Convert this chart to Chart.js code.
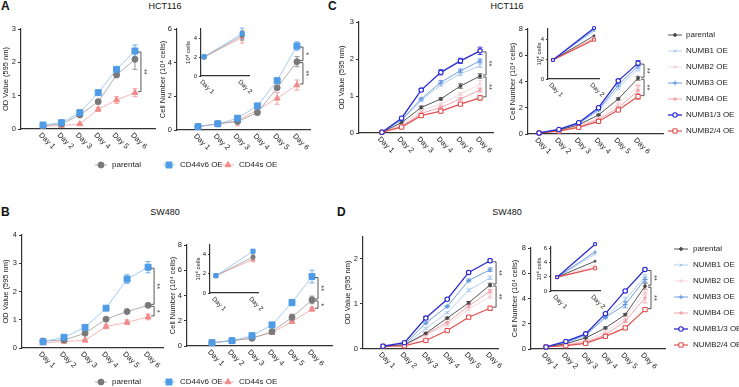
<!DOCTYPE html>
<html>
<head>
<meta charset="utf-8">
<script src="https://cdn.jsdelivr.net/npm/chart.js@4.4.0/dist/chart.umd.min.js"></script>
<style>
  html, body { margin: 0; padding: 0; background: #fff; }
  #fig { position: relative; width: 739px; height: 387px; overflow: hidden; font-family: Arial, "Liberation Sans", sans-serif; }
  #fig canvas { position: absolute; left: 0; top: 0; }
  .lbl { position: absolute; color: #111; white-space: nowrap; }
  .panel { font-weight: bold; font-size: 12px; }
  .cell { font-size: 9px; transform: translateX(-50%); }
</style>
</head>
<body>
<div id="fig">
  <div class="lbl panel" style="left:1px;top:-1px">A</div>
  <div class="lbl cell" style="left:165px;top:1px">HCT116</div>
  <div class="lbl panel" style="left:1px;top:205px">B</div>
  <div class="lbl cell" style="left:165px;top:207px">SW480</div>
  <div class="lbl panel" style="left:328px;top:-1px">C</div>
  <div class="lbl cell" style="left:507px;top:1px">HCT116</div>
  <div class="lbl panel" style="left:337px;top:205px">D</div>
  <div class="lbl cell" style="left:507px;top:207px">SW480</div>
</div>
<script>
const W = 739, H = 387;
const FONT = 'Arial, "Liberation Sans", sans-serif';

// categories
const days = ['Day 1', 'Day 2', 'Day 3', 'Day 4', 'Day 5', 'Day 6'];
const insetDays = ['Day 1', 'Day 2'];
const cd44Names = ['parental', 'CD44v6 OE', 'CD44s OE'];
const numbNames = ['parental', 'NUMB1 OE', 'NUMB2 OE', 'NUMB3 OE', 'NUMB4 OE', 'NUMB1/3 OE', 'NUMB2/4 OE'];

// A - HCT116, CD44 (parental, CD44v6, CD44s)
const hctOd = [
  [0.10, 0.15, 0.42, 0.82, 1.62, 2.09],
  [0.12, 0.19, 0.49, 1.09, 1.79, 2.34],
  [0.08, 0.10, 0.15, 0.59, 0.87, 1.09]
];
const hctOdErr = [
  [0.02, 0.02, 0.03, 0.06, 0.05, 0.30],
  [0.02, 0.02, 0.05, 0.05, 0.05, 0.18],
  [0.02, 0.02, 0.02, 0.06, 0.10, 0.12]
];
const hctCell = [
  [0.20, 0.37, 0.50, 1.03, 2.51, 4.06],
  [0.20, 0.37, 0.70, 1.43, 2.93, 4.99],
  [0.20, 0.37, 0.55, 1.19, 1.88, 2.67]
];
const hctCellErr = [
  [0.05, 0.05, 0.10, 0.10, 0.10, 0.30],
  [0.05, 0.05, 0.15, 0.15, 0.10, 0.25],
  [0.05, 0.05, 0.30, 0.10, 0.35, 0.30]
];
const hctInset = [[2.0, 4.3], [2.05, 4.5], [2.0, 4.1]];
const hctInsetErr = [[0.1, 0.5], [0.1, 0.6], [0.1, 0.6]];

// B - SW480, CD44
const swOd = [
  [0.25, 0.28, 0.52, 1.02, 1.29, 1.51],
  [0.22, 0.38, 0.73, 1.41, 2.44, 2.86],
  [0.18, 0.23, 0.27, 0.76, 0.91, 1.10]
];
const swOdErr = [
  [0.03, 0.03, 0.05, 0.05, 0.06, 0.06],
  [0.03, 0.05, 0.06, 0.06, 0.15, 0.20],
  [0.02, 0.03, 0.05, 0.08, 0.08, 0.10]
];
const swCell = [
  [0.26, 0.42, 0.61, 1.14, 2.27, 3.65],
  [0.26, 0.42, 0.82, 1.67, 3.44, 5.50],
  [0.26, 0.42, 0.65, 1.06, 1.93, 2.91]
];
const swCellErr = [
  [0.05, 0.05, 0.10, 0.10, 0.25, 0.30],
  [0.05, 0.05, 0.10, 0.15, 0.25, 0.50],
  [0.05, 0.05, 0.10, 0.10, 0.10, 0.15]
];
const swInset = [[1.8, 3.75], [1.8, 4.35], [1.8, 3.5]];
const swInsetErr = [[0.05, 0.2], [0.05, 0.1], [0.05, 0.25]];

// C - HCT116, NUMB (order as numbNames)
const hctNumbOd = [
  [0.02, 0.28, 0.69, 0.92, 1.27, 1.54],
  [0.02, 0.34, 0.88, 1.30, 1.60, 1.82],
  [0.02, 0.22, 0.60, 0.78, 1.05, 1.32],
  [0.02, 0.36, 0.92, 1.37, 1.68, 1.95],
  [0.02, 0.18, 0.53, 0.69, 0.92, 1.16],
  [0.02, 0.40, 1.16, 1.64, 1.95, 2.22],
  [0.02, 0.16, 0.47, 0.59, 0.78, 0.95]
];
const hctNumbOdErr = [
  [0, 0.02, 0.04, 0.03, 0.06, 0.06],
  [0, 0.02, 0.03, 0.04, 0.05, 0.05],
  [0, 0.02, 0.03, 0.03, 0.04, 0.10],
  [0, 0.02, 0.03, 0.05, 0.05, 0.05],
  [0, 0.02, 0.03, 0.03, 0.03, 0.05],
  [0, 0.02, 0.04, 0.07, 0.07, 0.10],
  [0, 0.02, 0.04, 0.04, 0.03, 0.06]
];
const hctNumbCell = [
  [0.08, 0.30, 0.70, 1.45, 2.67, 4.25],
  [0.08, 0.32, 0.78, 1.75, 3.50, 5.00],
  [0.08, 0.27, 0.62, 1.20, 2.30, 3.60],
  [0.08, 0.33, 0.82, 1.85, 3.74, 5.20],
  [0.08, 0.25, 0.56, 1.10, 2.00, 3.30],
  [0.08, 0.35, 0.86, 2.00, 4.05, 5.40],
  [0.08, 0.22, 0.51, 0.96, 1.83, 2.85]
];
const hctNumbCellErr = [
  [0, 0, 0.03, 0.05, 0.08, 0.15],
  [0, 0, 0.03, 0.05, 0.10, 0.20],
  [0, 0, 0.03, 0.05, 0.10, 0.20],
  [0, 0, 0.03, 0.05, 0.10, 0.20],
  [0, 0, 0.03, 0.05, 0.10, 0.40],
  [0, 0, 0.03, 0.08, 0.10, 0.20],
  [0, 0, 0.03, 0.05, 0.08, 0.20]
];
const hctNumbInset = [[1.9, 4.33], [1.9, 4.8], [1.9, 4.0], [1.9, 4.93], [1.9, 4.1], [1.9, 5.1], [1.9, 3.93]];

// D - SW480, NUMB
const swNumbOd = [
  [0.05, 0.08, 0.34, 0.68, 1.02, 1.42],
  [0.05, 0.08, 0.45, 0.80, 1.30, 1.58],
  [0.05, 0.07, 0.30, 0.52, 0.88, 1.16],
  [0.05, 0.09, 0.57, 0.94, 1.52, 1.76],
  [0.05, 0.07, 0.32, 0.58, 0.95, 1.28],
  [0.05, 0.13, 0.68, 1.10, 1.70, 1.96],
  [0.05, 0.06, 0.18, 0.40, 0.70, 0.90]
];
const swNumbOdErr = [
  [0, 0.01, 0.02, 0.02, 0.03, 0.04],
  [0, 0.01, 0.02, 0.02, 0.03, 0.04],
  [0, 0.01, 0.02, 0.02, 0.03, 0.04],
  [0, 0.01, 0.02, 0.02, 0.03, 0.04],
  [0, 0.01, 0.02, 0.02, 0.03, 0.04],
  [0, 0.03, 0.03, 0.02, 0.03, 0.04],
  [0, 0.01, 0.02, 0.02, 0.03, 0.04]
];
const swNumbCell = [
  [0.16, 0.42, 0.87, 1.67, 2.72, 4.97],
  [0.16, 0.50, 1.05, 2.60, 3.90, 5.70],
  [0.16, 0.36, 0.65, 1.35, 2.45, 4.50],
  [0.16, 0.52, 1.10, 2.50, 3.52, 5.50],
  [0.16, 0.32, 0.55, 1.13, 2.20, 4.05],
  [0.16, 0.60, 1.20, 2.80, 4.60, 6.30],
  [0.16, 0.26, 0.45, 1.00, 1.67, 3.12]
];
const swNumbCellErr = [
  [0, 0, 0.05, 0.08, 0.10, 0.25],
  [0, 0, 0.05, 0.10, 0.20, 0.20],
  [0, 0, 0.05, 0.08, 0.10, 0.20],
  [0, 0, 0.05, 0.10, 0.25, 0.20],
  [0, 0, 0.05, 0.08, 0.10, 0.40],
  [0, 0, 0.05, 0.08, 0.10, 0.10],
  [0, 0, 0.05, 0.08, 0.10, 0.15]
];
const swNumbInset = [[1.95, 4.2], [1.95, 5.2], [1.95, 3.6], [1.95, 5.5], [1.95, 3.3], [1.95, 6.6], [1.95, 3.2]];

// styles
const cd44Styles = [
  { color: '#7a7a7a', line: '#9b9b9b', fill: '#7a7a7a', shape: 'circle', r: 3, bw: 1, lw: 0.8, order: 1 },
  { color: '#4e9be6', line: '#8dbdf0', fill: '#4e9be6', shape: 'rect', r: 4.2, bw: 1, lw: 0.8, order: 0 },
  { color: '#f08a8a', line: '#f3a3a3', fill: '#f08a8a', shape: 'triangle', r: 3.4, bw: 1, lw: 0.8, order: 2 }
];
const numbStyles = [
  { color: '#4a4a4a', line: '#555555', fill: '#4a4a4a', shape: 'circle', r: 1.4, bw: 1, lw: 1, order: 2 },
  { color: '#a7c7f0', line: '#b4cff2', fill: '#a7c7f0', shape: 'crossRot', r: 2, bw: 1, lw: 1, order: 4 },
  { color: '#f4cfd5', line: '#f6dadf', fill: '#f4cfd5', shape: 'cross', r: 2, bw: 1, lw: 1, order: 6 },
  { color: '#5f95e0', line: '#6f9fe3', fill: '#5f95e0', shape: 'cross', r: 2.4, bw: 1, lw: 1, order: 3 },
  { color: '#ef9aa3', line: '#f0a4ab', fill: '#ef9aa3', shape: 'cross', r: 2, bw: 1, lw: 1, order: 5 },
  { color: '#2424d0', line: '#2a2ad2', fill: '#ffffff', shape: 'circle', r: 2.2, bw: 1.1, lw: 1.3, order: 0 },
  { color: '#e04545', line: '#e25050', fill: '#ffffff', shape: 'rect', r: 3, bw: 1, lw: 1.2, order: 1 }
];

const odTitle = 'OD Value (595 nm)';
const cellTitle = 'Cell Number (10\u2074 cells)';
const insetTitle = '10\u2074 cells';

function marker(ctx, shape, x, y, r, fill, stroke, bw) {
  ctx.save();
  ctx.fillStyle = fill; ctx.strokeStyle = stroke; ctx.lineWidth = bw;
  ctx.beginPath();
  if (shape === 'circle') ctx.arc(x, y, r, 0, Math.PI * 2);
  else if (shape === 'rect') { const s = r * Math.SQRT1_2; ctx.rect(x - s, y - s, 2 * s, 2 * s); }
  else if (shape === 'triangle') {
    for (let k = 0; k < 3; k++) {
      const a = k * 2 * Math.PI / 3;
      const px = x + Math.sin(a) * r, py = y - Math.cos(a) * r;
      if (k === 0) ctx.moveTo(px, py); else ctx.lineTo(px, py);
    }
    ctx.closePath();
  } else if (shape === 'cross') {
    ctx.moveTo(x, y - r); ctx.lineTo(x, y + r); ctx.moveTo(x - r, y); ctx.lineTo(x + r, y);
  } else if (shape === 'crossRot') {
    const s = r * Math.SQRT1_2;
    ctx.moveTo(x - s, y - s); ctx.lineTo(x + s, y + s); ctx.moveTo(x - s, y + s); ctx.lineTo(x + s, y - s);
  }
  if (shape !== 'cross' && shape !== 'crossRot') ctx.fill();
  ctx.stroke();
  ctx.restore();
}

// error bars, rotated day labels, significance brackets, legends
const decor = {
  id: 'decor',
  beforeDatasetsDraw(chart, args, o) {
    const ctx = chart.ctx, ys = chart.scales.y;
    chart.data.datasets.forEach((ds, i) => {
      if (!ds.errs) return;
      const meta = chart.getDatasetMeta(i);
      ctx.save();
      ctx.strokeStyle = ds.pointBorderColor; ctx.lineWidth = 0.8;
      meta.data.forEach((pt, j) => {
        const e = ds.errs[j];
        if (!e) return;
        const v = ds.data[j].y;
        const y1 = ys.getPixelForValue(v + e), y2 = ys.getPixelForValue(v - e);
        ctx.beginPath();
        ctx.moveTo(pt.x, y1); ctx.lineTo(pt.x, y2);
        ctx.moveTo(pt.x - o.cap, y1); ctx.lineTo(pt.x + o.cap, y1);
        ctx.moveTo(pt.x - o.cap, y2); ctx.lineTo(pt.x + o.cap, y2);
        ctx.stroke();
      });
      ctx.restore();
    });
  },
  afterDraw(chart, args, o) {
    const ctx = chart.ctx, xs = chart.scales.x, ys = chart.scales.y, area = chart.chartArea;
    const ds = chart.data.datasets;
    ctx.save();
    ctx.fillStyle = '#222';
    ctx.font = o.fontSize + 'px ' + FONT;
    ctx.textAlign = 'left'; ctx.textBaseline = 'middle';
    o.labels.forEach((lab, i) => {
      const px = xs.getPixelForValue(i + 1);
      ctx.save();
      ctx.translate(px - 3, area.bottom + 5);
      ctx.rotate(Math.PI / 4);
      ctx.fillText(lab, 0, 0);
      ctx.restore();
    });
    const last = o.labels.length - 1;
    (o.brackets || []).forEach(b => {
      const ya = ys.getPixelForValue(ds[b[0]].data[last].y) + 1;
      const yb = ys.getPixelForValue(ds[b[1]].data[last].y) - 1;
      const bx = xs.getPixelForValue(last + 1) + 6;
      ctx.strokeStyle = '#444'; ctx.lineWidth = 0.9;
      ctx.beginPath();
      ctx.moveTo(bx - 3, ya); ctx.lineTo(bx, ya); ctx.lineTo(bx, yb); ctx.lineTo(bx - 3, yb);
      ctx.stroke();
      ctx.save();
      ctx.translate(bx + 3, (ya + yb) / 2);
      ctx.rotate(Math.PI / 2);
      ctx.textAlign = 'center';
      ctx.fillStyle = '#333';
      ctx.fillText(b[2], 0, 0);
      ctx.restore();
    });
    if (o.legend) {
      const L = o.legend;
      ctx.font = L.size + 'px ' + FONT;
      ds.forEach((d, i) => {
        const x0 = L.xs ? L.xs[i] : L.x;
        const y0 = L.xs ? L.y : L.y + i * L.dy;
        ctx.strokeStyle = d.borderColor; ctx.lineWidth = d.borderWidth;
        ctx.beginPath(); ctx.moveTo(x0, y0); ctx.lineTo(x0 + L.len, y0); ctx.stroke();
        marker(ctx, d.pointStyle, x0 + L.len / 2, y0, d.pointRadius, d.pointBackgroundColor, d.pointBorderColor, d.pointBorderWidth);
        ctx.fillStyle = '#222';
        ctx.fillText(d.label, x0 + L.len + L.gap, y0);
      });
    }
    ctx.restore();
  }
};

const fig = document.getElementById('fig');

function build(c) {
  const cv = document.createElement('canvas');
  cv.width = W; cv.height = H;
  fig.appendChild(cv);
  const fs = c.inset ? 6 : 7.5;
  const padL = c.titleX - fs * 1.2 / 2;
  const k = c.inset ? 0.7 : 1;
  const datasets = c.series.map((vals, i) => {
    const st = c.styles[i];
    return {
      label: c.names[i],
      data: vals.map((v, j) => ({ x: j + 1, y: v })),
      errs: c.errors ? c.errors[i] : null,
      borderColor: st.line, borderWidth: st.lw,
      pointStyle: st.shape, pointRadius: st.r * k,
      pointBorderColor: st.color, pointBackgroundColor: st.fill, pointBorderWidth: st.bw,
      tension: 0, clip: false, order: st.order
    };
  });
  new Chart(cv, {
    type: 'line',
    data: { datasets },
    options: {
      responsive: false, animation: false, events: [], devicePixelRatio: 1,
      layout: { padding: { left: padL, top: c.box.top, right: W - c.box.right, bottom: H - c.box.bottom } },
      plugins: {
        legend: { display: false }, tooltip: { enabled: false },
        decor: { labels: c.labels, fontSize: c.inset ? 6.5 : 7.5, cap: c.inset ? 2 : 2.5, brackets: c.brackets, legend: c.legend }
      },
      scales: {
        x: {
          type: 'linear', min: c.x[0], max: c.x[1],
          grid: { display: false }, ticks: { display: false },
          border: { display: true, color: '#333', width: 1.2 },
          afterFit: s => { s.height = 0; }
        },
        y: {
          min: c.y[0], max: c.y[1],
          ticks: { stepSize: c.y[2], includeBounds: false, padding: 2, color: '#222', font: { size: fs } },
          grid: { drawOnChartArea: false, drawTicks: true, tickLength: c.inset ? 2 : 3, color: '#333' },
          border: { display: true, color: '#333', width: 1.2 },
          title: { display: true, text: c.title, padding: 0, color: '#222', font: { size: fs } },
          afterFit: s => { s.width = c.box.left - padL; }
        }
      }
    },
    plugins: [decor]
  });
}

const panels = [
  // A
  { box: { left: 21, top: 29, right: 155, bottom: 129 }, titleX: 6, title: odTitle, y: [0, 3, 1], x: [-0.2, 7.09],
    labels: days, series: hctOd, errors: hctOdErr, names: cd44Names, styles: cd44Styles, brackets: [[1, 2, '**']],
    legend: { xs: [95, 163, 222], y: 165, len: 12, gap: 5, size: 8 } },
  { box: { left: 177, top: 29, right: 310, bottom: 130 }, titleX: 163, title: cellTitle, y: [0, 6, 2], x: [-0.06, 6.66],
    labels: days, series: hctCell, errors: hctCellErr, names: cd44Names, styles: cd44Styles, brackets: [[1, 0, '*'], [0, 2, '**']] },
  { inset: true, box: { left: 201, top: 29, right: 249, bottom: 76 }, titleX: 188, title: insetTitle, y: [0, 5, 1], x: [0.92, 2.18],
    labels: insetDays, series: hctInset, errors: hctInsetErr, names: cd44Names, styles: cd44Styles },
  // B
  { box: { left: 22, top: 235, right: 163, bottom: 348 }, titleX: 6, title: odTitle, y: [0, 4, 1], x: [0, 6.71],
    labels: days, series: swOd, errors: swOdErr, names: cd44Names, styles: cd44Styles, brackets: [[1, 0, '**'], [0, 2, '*']],
    legend: { xs: [95, 163, 222], y: 382, len: 12, gap: 5, size: 8 } },
  { box: { left: 187, top: 245, right: 332, bottom: 346 }, titleX: 173, title: cellTitle, y: [0, 8, 2], x: [-0.25, 7],
    labels: days, series: swCell, errors: swCellErr, names: cd44Names, styles: cd44Styles, brackets: [[1, 0, '**'], [0, 2, '*']] },
  { inset: true, box: { left: 210, top: 245, right: 258, bottom: 293 }, titleX: 198, title: insetTitle, y: [0, 5, 1], x: [0.84, 2.135],
    labels: insetDays, series: swInset, errors: swInsetErr, names: cd44Names, styles: cd44Styles },
  // C
  { box: { left: 359, top: 22, right: 493, bottom: 133 }, titleX: 342, title: odTitle, y: [0, 3, 1], x: [-0.17, 6.66],
    labels: days, series: hctNumbOd, errors: hctNumbOdErr, names: numbNames, styles: numbStyles, brackets: [[5, 0, '**'], [0, 6, '**']] },
  { box: { left: 528, top: 29, right: 663, bottom: 134 }, titleX: 513, title: cellTitle, y: [0, 8, 2], x: [0.44, 7.26],
    labels: days, series: hctNumbCell, errors: hctNumbCellErr, names: numbNames, styles: numbStyles, brackets: [[5, 0, '**'], [0, 6, '**']],
    legend: { x: 668, y: 35, dy: 16, len: 14, gap: 4, size: 8 } },
  { inset: true, box: { left: 548, top: 29, right: 599, bottom: 79 }, titleX: 539, title: insetTitle, y: [0, 5, 1], x: [0.88, 2.12],
    labels: insetDays, series: hctNumbInset, names: numbNames, styles: numbStyles },
  // D
  { box: { left: 363, top: 236.6, right: 498, bottom: 348.5 }, titleX: 348, title: odTitle, y: [0, 2.5, 1], x: [0.065, 6.37],
    labels: days, series: swNumbOd, errors: swNumbOdErr, names: numbNames, styles: numbStyles, brackets: [[5, 0, '**'], [0, 6, '**']] },
  { box: { left: 531, top: 248, right: 665, bottom: 349 }, titleX: 515, title: cellTitle, y: [0, 8, 2], x: [0.24, 7.01],
    labels: days, series: swNumbCell, errors: swNumbCellErr, names: numbNames, styles: numbStyles, brackets: [[5, 0, '**'], [0, 6, '**']],
    legend: { x: 674, y: 249, dy: 16, len: 14, gap: 5, size: 8 } },
  { inset: true, box: { left: 551, top: 247, right: 600, bottom: 291 }, titleX: 539, title: insetTitle, y: [0, 6.2, 2], x: [0.84, 2.13],
    labels: insetDays, series: swNumbInset, names: numbNames, styles: numbStyles }
];

Chart.defaults.font.family = FONT;
panels.forEach(build);
</script>
</body>
</html>
